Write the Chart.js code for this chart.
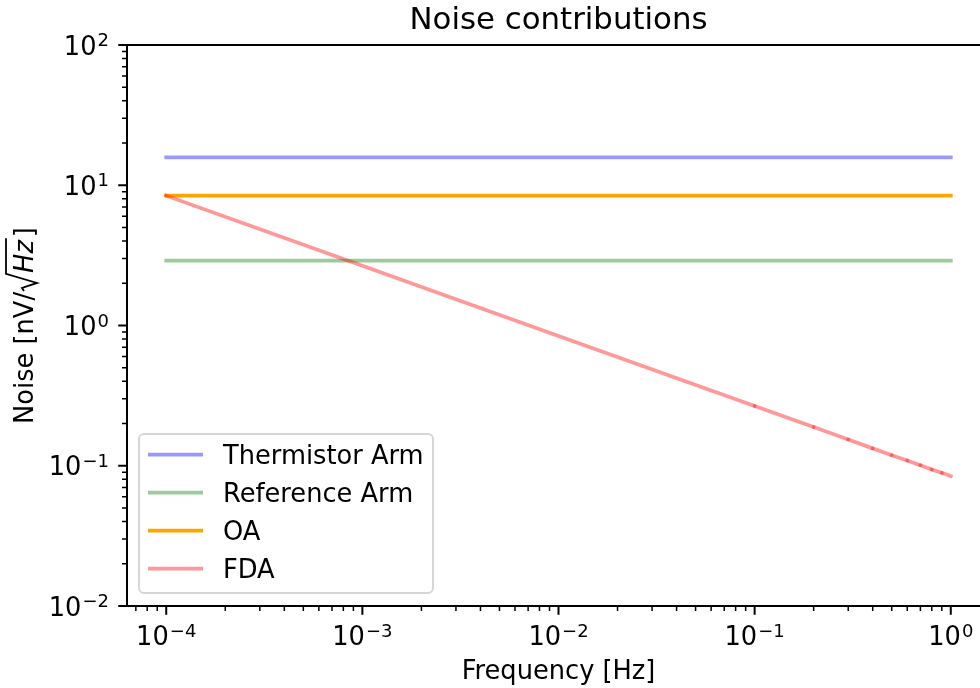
<!DOCTYPE html>
<html>
<head>
<meta charset="utf-8">
<title>Noise contributions</title>
<script src="https://cdn.jsdelivr.net/npm/chart.js@4"></script>
<style>
  html, body { margin: 0; padding: 0; background: #fff; overflow: hidden; }
  #wrap { width: 980px; height: 688px; overflow: hidden; }
</style>
</head>
<body>
<div id="wrap"><canvas id="noise" width="1000" height="688"></canvas></div>
<script>
// frequency grid [Hz] and noise densities [nV/sqrt(Hz)]
const freq = [1e-4, 1e-3, 1e-2, 0.1, 0.2, 0.3, 0.4, 0.5, 0.6, 0.7, 0.8, 0.9, 1.0];
const thermistorArm = [15.8, 15.8, 15.8, 15.8, 15.8, 15.8, 15.8, 15.8, 15.8, 15.8, 15.8, 15.8, 15.8];
const referenceArm = [2.90, 2.90, 2.90, 2.90, 2.90, 2.90, 2.90, 2.90, 2.90, 2.90, 2.90, 2.90, 2.90];
const oa = [8.43, 8.43, 8.43, 8.43, 8.43, 8.43, 8.43, 8.43, 8.43, 8.43, 8.43, 8.43, 8.43];
const fda = [8.43, 2.67, 0.843, 0.267, 0.189, 0.154, 0.133, 0.119, 0.109, 0.101, 0.094, 0.089, 0.0843];

const xTicks = [1e-4, 1e-3, 1e-2, 1e-1, 1];
const yTicks = [1e-2, 1e-1, 1, 10, 100];

const FONT = '"DejaVu Sans", sans-serif';
const FS = 25.7;      // tick, label and legend text
const FS_SUP = 18;    // exponents
const FS_TITLE = 30.8;

function pts(ys) {
  return freq.map((f, i) => ({ x: f, y: ys[i] }));
}

// "10" with a raised exponent
function drawPow(ctx, v, x, y, align) {
  const e = Math.round(Math.log10(v));
  const sup = e < 0 ? '\u2212' + (-e) : String(e);
  ctx.font = FS + 'px ' + FONT;
  const wb = ctx.measureText('10').width;
  ctx.font = FS_SUP + 'px ' + FONT;
  const ws = ctx.measureText(sup).width;
  const w = wb + ws + 1;
  const x0 = align === 'center' ? x - w / 2 : x - w;
  ctx.textAlign = 'left';
  ctx.textBaseline = 'alphabetic';
  ctx.font = FS + 'px ' + FONT;
  ctx.fillText('10', x0, y);
  ctx.font = FS_SUP + 'px ' + FONT;
  ctx.fillText(sup, x0 + wb + 1, y - 8.5);
}

function minorTicks(min, max) {
  const out = [];
  for (let k = Math.floor(Math.log10(min)); k <= Math.ceil(Math.log10(max)); k++) {
    for (let m = 2; m <= 9; m++) {
      const v = m * Math.pow(10, k);
      if (v >= min && v <= max) out.push(v);
    }
  }
  return out;
}

const mplAxes = {
  id: 'mplAxes',
  afterDraw(chart) {
    const ctx = chart.ctx;
    const a = chart.chartArea;
    const xs = chart.scales.x, ys = chart.scales.y;
    ctx.save();
    ctx.strokeStyle = '#000';
    ctx.fillStyle = '#000';

    // title, centred over the axes
    ctx.font = FS_TITLE + 'px ' + FONT;
    ctx.textAlign = 'center';
    ctx.textBaseline = 'alphabetic';
    ctx.fillText('Noise contributions', (a.left + a.right) / 2, 28.5);

    // spines
    ctx.lineWidth = 2;
    ctx.beginPath();
    ctx.moveTo(a.left, a.top); ctx.lineTo(a.right, a.top);
    ctx.moveTo(a.left, a.top - 1); ctx.lineTo(a.left, a.bottom + 1);
    ctx.moveTo(a.left, a.bottom); ctx.lineTo(a.right, a.bottom);
    ctx.stroke();

    // major and minor ticks
    const tick = (len, w, list, fn) => {
      ctx.lineWidth = w;
      ctx.beginPath();
      list.forEach(fn.bind(null, len));
      ctx.stroke();
    };
    const xt = (len, v) => { const p = xs.getPixelForValue(v); ctx.moveTo(p, a.bottom); ctx.lineTo(p, a.bottom + len); };
    const yt = (len, v) => { const p = ys.getPixelForValue(v); ctx.moveTo(a.left, p); ctx.lineTo(a.left - len, p); };
    tick(8.75, 2, xTicks, xt);
    tick(5, 1.5, minorTicks(xs.min, xs.max), xt);
    tick(8.75, 2, yTicks, yt);
    tick(5, 1.5, minorTicks(ys.min, ys.max), yt);

    // tick labels
    xTicks.forEach(v => drawPow(ctx, v, xs.getPixelForValue(v), a.bottom + 39, 'center'));
    yTicks.forEach(v => drawPow(ctx, v, a.left - 18, ys.getPixelForValue(v) + 9.5, 'right'));

    // y axis title: Noise [nV/sqrt(Hz)]
    ctx.save();
    ctx.translate(33, (a.top + a.bottom) / 2);
    ctx.rotate(-Math.PI / 2);
    ctx.textAlign = 'left';
    ctx.textBaseline = 'alphabetic';
    const reg = FS + 'px ' + FONT, ita = 'italic ' + FS + 'px ' + FONT;
    ctx.font = reg;
    const w1 = ctx.measureText('Noise [nV/').width;
    const w3 = ctx.measureText(']').width;
    ctx.font = ita;
    const w2 = ctx.measureText('Hz').width;
    const wr = 19;
    let x = -(w1 + wr + w2 + 3 + w3) / 2;
    ctx.font = reg;
    ctx.fillText('Noise [nV/', x, 0);
    x += w1;
    ctx.lineWidth = 1.8;
    ctx.lineJoin = 'miter';
    ctx.beginPath();
    ctx.moveTo(x + 1, -9);
    ctx.lineTo(x + 4, -11);
    ctx.lineTo(x + 9, 4);
    ctx.lineTo(x + wr - 1, -27);
    ctx.lineTo(x + wr + w2 + 2, -27);
    ctx.stroke();
    x += wr;
    ctx.font = ita;
    ctx.fillText('Hz', x, 0);
    x += w2 + 3;
    ctx.font = reg;
    ctx.fillText(']', x, 0);
    ctx.restore();

    // legend
    const bx = 139, by = 434, bw = 294, bh = 159;
    ctx.beginPath();
    ctx.roundRect(bx, by, bw, bh, 5);
    ctx.fillStyle = 'rgba(255,255,255,0.8)';
    ctx.fill();
    ctx.lineWidth = 2;
    ctx.strokeStyle = 'rgba(204,204,204,0.8)';
    ctx.stroke();
    ctx.font = FS + 'px ' + FONT;
    ctx.textAlign = 'left';
    ctx.textBaseline = 'alphabetic';
    chart.data.datasets.forEach((ds, i) => {
      const y = 454.5 + i * 38;
      ctx.strokeStyle = ds.borderColor;
      ctx.lineWidth = ds.borderWidth;
      ctx.beginPath();
      ctx.moveTo(148, y);
      ctx.lineTo(203, y);
      ctx.stroke();
      ctx.fillStyle = '#000';
      ctx.fillText(ds.label, 223, y + 9.5);
    });
    ctx.restore();
  }
};

const line = (label, ys, color, order) => ({
  label: label,
  data: pts(ys),
  borderColor: color,
  borderWidth: 3.75,
  borderCapStyle: 'square',
  pointRadius: 0,
  fill: false,
  tension: 0,
  order: order
});

const fdaSet = line('FDA', fda, 'rgba(255,0,0,0.4)', 1);
// darker spots where the line segments meet
fdaSet.pointRadius = freq.map((f, i) => (f >= 0.1 && f < 1 ? 1.9 : 0));
fdaSet.pointBackgroundColor = 'rgba(255,0,0,0.4)';
fdaSet.pointBorderWidth = 0;

new Chart(document.getElementById('noise'), {
  type: 'line',
  data: {
    datasets: [
      line('Thermistor Arm', thermistorArm, 'rgba(0,0,255,0.4)', 4),
      line('Reference Arm', referenceArm, 'rgba(0,128,0,0.4)', 3),
      line('OA', oa, 'rgb(255,165,0)', 2),
      fdaSet
    ]
  },
  options: {
    responsive: false,
    animation: false,
    devicePixelRatio: 1,
    events: [],
    layout: { padding: { left: 0, right: 10, top: 45, bottom: 0 } },
    plugins: {
      legend: { display: false },
      tooltip: { enabled: false },
      title: { display: false }
    },
    scales: {
      x: {
        type: 'logarithmic',
        min: Math.pow(10, -4.2),
        max: Math.pow(10, 0.2),
        afterFit: s => { s.height = 82; },
        grid: { display: false, drawTicks: false },
        border: { display: false },
        ticks: { display: false },
        title: {
          display: true,
          text: 'Frequency [Hz]',
          color: '#000',
          font: { family: FONT, size: FS, lineHeight: 1.2 },
          padding: { top: 0, bottom: 0 }
        }
      },
      y: {
        type: 'logarithmic',
        min: 0.01,
        max: 100,
        afterFit: s => { s.width = 127; },
        grid: { display: false, drawTicks: false },
        border: { display: false },
        ticks: { display: false }
      }
    }
  },
  plugins: [mplAxes]
});
</script>
</body>
</html>
